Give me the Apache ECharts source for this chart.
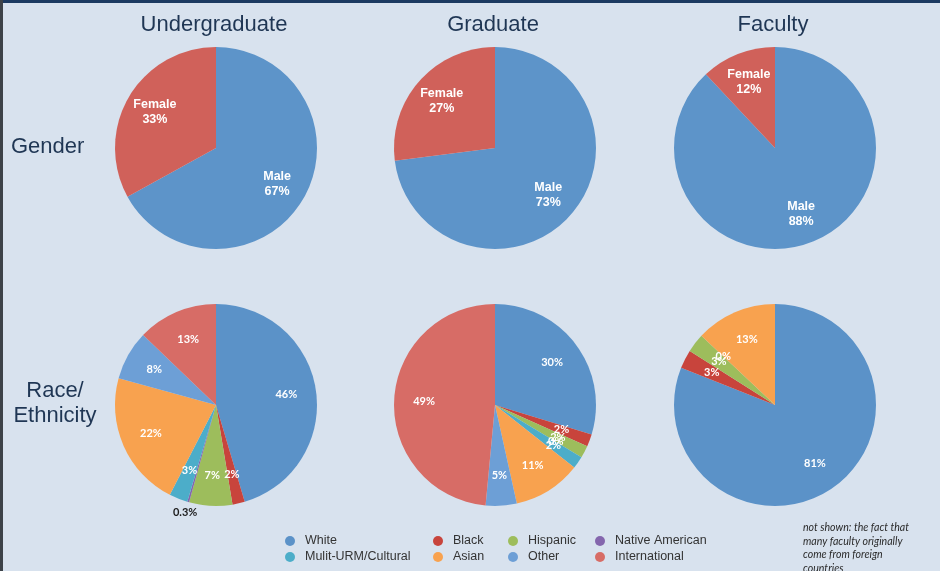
<!DOCTYPE html>
<html>
<head>
<meta charset="utf-8">
<script src="https://cdn.jsdelivr.net/npm/echarts@6/dist/echarts.min.js"></script>
<style>
html, body { margin: 0; padding: 0; background: #d8e2ee; }
#chart { width: 940px; height: 571px; }
</style>
</head>
<body>
<div id="chart"></div>
<script>
// 列标题 / 行标题
const groups = ['Undergraduate', 'Graduate', 'Faculty'];
const rows = ['Gender', 'Race/\nEthnicity'];

// 性别
const genderNames = ['Male', 'Female'];
const genderUndergrad = [67, 33];
const genderGraduate = [73, 27];
const genderFaculty = [88, 12];

// 种族 (null = not in that pie)
const raceNames = ['White', 'Black', 'Hispanic', 'Native American', 'Mulit-URM/Cultural', 'Asian', 'Other', 'International'];
const raceUndergrad = [46, 2, 7, 0.3, 3, 22, 8, 13];
const raceGraduate = [30, 2, 2, 0, 2, 11, 5, 49];
const raceFaculty = [81, 3, 3, 0, null, 13, null, null];

const note = 'not shown: the fact that\nmany faculty originally\ncome from foreign\ncountries';

const colors = {
  'Male': '#5d94c9',
  'Female': '#d0615a',
  'White': '#5b92c8',
  'Black': '#c8443c',
  'Hispanic': '#9dbd5c',
  'Native American': '#8466ad',
  'Mulit-URM/Cultural': '#4cadc9',
  'Asian': '#f8a24f',
  'Other': '#6d9fd6',
  'International': '#d76c66'
};

const centersX = [216, 495, 775];
const genderY = 148;
const raceY = 405;
const R = 101;

function pieData (names, values) {
  return names.map((n, i) => ({ name: n, value: values[i], itemStyle: { color: colors[n] } }))
    .filter(d => d.value !== null);
}

const baseSeries = [];
const labelSeries = [];

function addPie (cx, cy, names, values, labelFmt, labelFont, fontSize, outside) {
  const data = pieData(names, values);
  baseSeries.push({
    type: 'pie',
    center: [cx, cy],
    radius: R,
    startAngle: 90,
    silent: true,
    label: { show: false },
    labelLine: { show: false },
    itemStyle: { borderWidth: 0 },
    data: data
  });
  // 标签层, 透明
  labelSeries.push({
    type: 'pie',
    center: [cx, cy],
    radius: [36, 100],
    startAngle: 90,
    silent: true,
    avoidLabelOverlap: false,
    minShowLabelAngle: 0,
    labelLayout: { hideOverlap: false },
    itemStyle: { color: 'rgba(0,0,0,0)', borderWidth: 0 },
    label: {
      show: true,
      position: 'inside',
      formatter: labelFmt,
      color: '#ffffff',
      fontFamily: labelFont,
      fontWeight: 'bold',
      fontSize: fontSize,
      lineHeight: 15
    },
    labelLine: { show: false },
    data: data.map(d => ({
      name: d.name,
      value: d.value,
      itemStyle: { color: 'rgba(0,0,0,0)' },
      label: { show: !(outside || []).includes(d.name) }
    }))
  });
  if (outside) {
    labelSeries.push({
      type: 'pie',
      center: [cx, cy],
      radius: [100, 118],
      startAngle: 90,
      silent: true,
      avoidLabelOverlap: false,
      labelLayout: { hideOverlap: false },
      itemStyle: { color: 'rgba(0,0,0,0)', borderWidth: 0 },
      label: {
        show: true,
        position: 'inside',
        formatter: labelFmt,
        color: '#1a1a1a',
        fontFamily: labelFont,
        fontWeight: 'bold',
        fontSize: fontSize
      },
      labelLine: { show: false },
      data: data.map(d => ({
        name: d.name,
        value: d.value,
        itemStyle: { color: 'rgba(0,0,0,0)' },
        label: { show: outside.includes(d.name) }
      }))
    });
  }
}

const genderFmt = '{b}\n{c}%';
const raceFmt = '{c}%';
const gFont = 'Liberation Sans';
const rFont = 'Lato';

addPie(centersX[0], raceY, raceNames, raceUndergrad, raceFmt, rFont, 11, ['Native American']);
addPie(centersX[1], raceY, raceNames, raceGraduate, raceFmt, rFont, 11);
addPie(centersX[2], raceY, raceNames, raceFaculty, raceFmt, rFont, 11);
addPie(centersX[0], genderY, genderNames, genderUndergrad, genderFmt, gFont, 12.5);
addPie(centersX[1], genderY, genderNames, genderGraduate, genderFmt, gFont, 12.5);
addPie(centersX[2], genderY, genderNames, genderFaculty, genderFmt, gFont, 12.5);

const titleStyle = { color: '#1f3654', fontSize: 22, fontWeight: 'normal', fontFamily: 'Liberation Sans', lineHeight: 25 };

const titles = groups.map((g, i) => ({
  text: g, left: centersX[i] - 2, top: 12, textAlign: 'center', padding: 0, textStyle: titleStyle
}));
titles.push({ text: rows[0], left: 11, top: 134, padding: 0, textStyle: titleStyle });
titles.push({ text: rows[1], left: 55, top: 378, padding: 0, textAlign: 'center', textStyle: titleStyle });

// 图例: 四列
const legendCols = [
  [raceNames[0], raceNames[4]],
  [raceNames[1], raceNames[5]],
  [raceNames[2], raceNames[6]],
  [raceNames[3], raceNames[7]]
];
const legendLeft = [285, 433, 508, 595];
const legends = legendCols.map((col, i) => ({
  data: col,
  orient: 'vertical',
  left: legendLeft[i],
  top: 534,
  padding: 0,
  itemGap: 2,
  itemWidth: 10,
  itemHeight: 10,
  icon: 'circle',
  selectedMode: false,
  textStyle: { fontSize: 12.5, color: '#333333', fontFamily: 'Liberation Sans', padding: [0, 0, 0, 5], lineHeight: 14 }
}));

const chart = echarts.init(document.getElementById('chart'));
chart.setOption({
  backgroundColor: '#d8e2ee',
  animation: false,
  title: titles,
  legend: legends,
  graphic: [
    { type: 'rect', shape: { x: 0, y: 0, width: 940, height: 3 }, style: { fill: '#1c3a61' } },
    { type: 'rect', shape: { x: 0, y: 0, width: 3, height: 571 }, style: { fill: '#3d4248' } },
    {
      type: 'text', left: 803, top: 521,
      style: { text: note, font: 'italic 10.6px Lato', lineHeight: 13.5, fill: '#2b2b2b' }
    }
  ],
  series: baseSeries.concat(labelSeries)
});
</script>
</body>
</html>
